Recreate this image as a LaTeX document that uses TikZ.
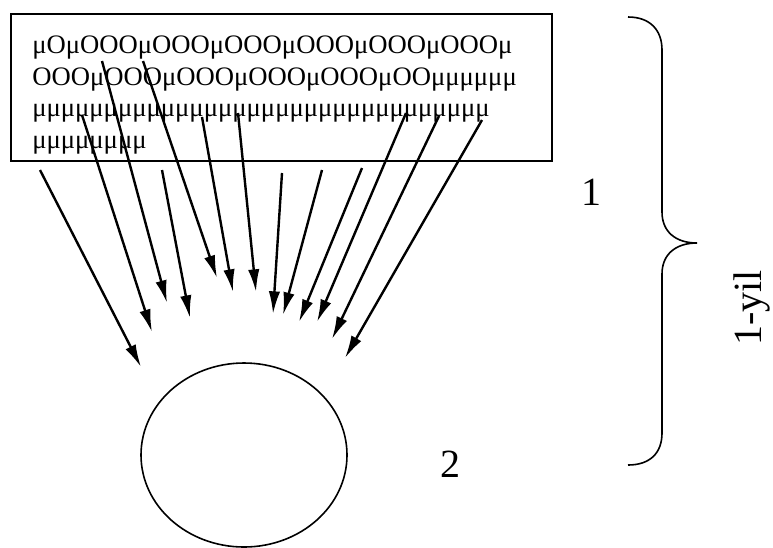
\documentclass[tikz,border=0pt]{standalone}
\usepackage{fontspec}
\setmainfont{Liberation Serif}
\usetikzlibrary{arrows.meta,shapes.geometric}
\tikzset{
  flow/.style={line width=1.8pt,-{Latex[length=17pt,width=8.5pt]}},
  frame/.style={draw,line width=1.2pt,inner sep=0pt},
  boxtext/.style={anchor=base west,inner sep=0pt,font=\fontsize{20}{24}\selectfont},
  biglabel/.style={inner sep=0pt,font=\fontsize{30}{36}\selectfont},
  bracepath/.style={line width=1.2pt}
}
\begin{document}
\begin{tikzpicture}[x=0.75pt,y=-0.75pt]
\useasboundingbox (0,0) rectangle (773,547);

% source block with its text
\node[frame,anchor=north west,minimum width=405.75pt,minimum height=110.25pt] (box) at (10,13) {};
\node[boxtext] (l1) at (32,53)  {μOμOOOμOOOμOOOμOOOμOOOμOOOμ};
\node[boxtext] (l2) at (32,85)  {OOOμOOOμOOOμOOOμOOOμOOμμμμμμ};
\node[boxtext] (l3) at (32,116) {μμμμμμμμμμμμμμμμμμμμμμμμμμμμμμμμ};
\node[boxtext] (l4) at (32,148) {μμμμμμμμ};

% target body
\node[draw,ellipse,line width=1.2pt,minimum width=154.5pt,minimum height=138pt,inner sep=0pt] (body) at (244,455) {};

% arrow start and end points
\coordinate (sA) at (40,170);  \coordinate (tA) at (141,367);
\coordinate (sB) at (82,115);  \coordinate (tB) at (152,332);
\coordinate (sC) at (102,61);  \coordinate (tC) at (167,303);
\coordinate (sD) at (162,170); \coordinate (tD) at (190,318);
\coordinate (sE) at (143,61);  \coordinate (tE) at (217,278);
\coordinate (sF) at (202,117); \coordinate (tF) at (233,292);
\coordinate (sG) at (238,113); \coordinate (tG) at (256,292);
\coordinate (sH) at (282,173); \coordinate (tH) at (273,314);
\coordinate (sI) at (322,170); \coordinate (tI) at (283,315);
\coordinate (sJ) at (362,168); \coordinate (tJ) at (299,322);
\coordinate (sK) at (406,113); \coordinate (tK) at (317,322);
\coordinate (sL) at (439,116); \coordinate (tL) at (332,339);
\coordinate (sM) at (482,120); \coordinate (tM) at (345,358);

\foreach \k in {A,B,C,D,E,F,G,H,I,J,K,L,M}
  \draw[flow] (s\k) -- (t\k);

% labels
\node[biglabel] (n1) at (591,192) {1};
\node[biglabel] (n2) at (450,464) {2};

% curly brace spanning both stages
\coordinate (bt) at (628,17);
\coordinate (bm) at (697,243);
\coordinate (bb) at (628,465);
\draw[bracepath] (bt) .. controls (650,17) and (662,30) .. (662,50)
  -- (662,212) .. controls (662,232) and (676,243) .. (bm)
  .. controls (676,243) and (662,254) .. (662,274)
  -- (662,433) .. controls (662,453) and (650,465) .. (bb);
\node[biglabel,rotate=90,anchor=base] (yr) at (761,308) {1-yil};
\end{tikzpicture}
\end{document}
